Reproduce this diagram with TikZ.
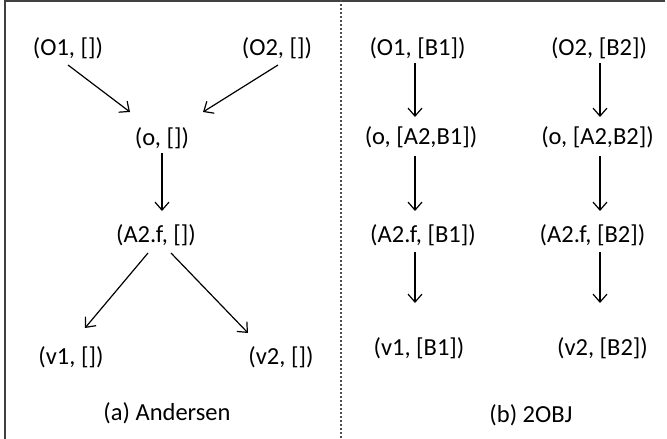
\documentclass[tikz,border=0pt]{standalone}
\usepackage{fontspec}
\setmainfont{Carlito}
\usetikzlibrary{arrows.meta}
\begin{document}
\begin{tikzpicture}[x=1pt,y=-1pt,
  lbl/.style={inner sep=0pt, font=\fontsize{24.5}{28}\selectfont},
  arr/.style={line width=1.2pt, -{Straight Barb[length=8pt,width=14pt,line width=1.2pt]}},
  frame/.style={draw=black!75, line width=2pt},
  divider/.style={draw=black!70, line width=1.5pt, dash pattern=on 2pt off 2pt}]
\useasboundingbox (0,0) rectangle (667,439);
% frame
\coordinate (tl) at (5,1);
\coordinate (tr) at (665,1);
\coordinate (bl) at (5,439);
\draw[frame] (tr) -- (tl) -- (bl);
\coordinate (dt) at (341,0);
\coordinate (db) at (341,439);
\draw[divider] (dt) -- (db);
% (a) Andersen
\node[lbl] (O1) at (68,48) {(O1, [])};
\node[lbl] (O2) at (277,48) {(O2, [])};
\node[lbl] (o) at (162,138) {(o, [])};
\node[lbl] (A2f) at (156,235) {(A2.f, [])};
\node[lbl] (v1) at (71,357) {(v1, [])};
\node[lbl] (v2) at (281,357) {(v2, [])};
\node[lbl] (capa) at (167,413) {(a) Andersen};
\draw[arr] ([shift={(0,17)}]O1.center) -- ([shift={(-32,-26)}]o.center);
\draw[arr] ([shift={(1,17)}]O2.center) -- ([shift={(41,-26)}]o.center);
\draw[arr] ([shift={(0,15)}]o.center) -- ([shift={(0,-24)}]o.center |- A2f.center);
\draw[arr] ([shift={(-8,18)}]A2f.center) -- ([shift={(14,-29)}]v1.center);
\draw[arr] ([shift={(15,18)}]A2f.center) -- ([shift={(-33,-24)}]v2.center);
% (b) 2OBJ
\node[lbl] (O1b) at (417.5,48) {(O1, [B1])};
\node[lbl] (O2b) at (599,48) {(O2, [B2])};
\node[lbl] (o1b) at (421,137) {(o, [A2,B1])};
\node[lbl] (o2b) at (597.5,137) {(o, [A2,B2])};
\node[lbl] (A1b) at (423,235) {(A2.f, [B1])};
\node[lbl] (A2b) at (592.5,235) {(A2.f, [B2])};
\node[lbl] (v1b) at (419,348) {(v1, [B1])};
\node[lbl] (v2b) at (602.5,348) {(v2, [B2])};
\node[lbl] (capb) at (531,415) {(b) 2OBJ};
\draw[arr] ([shift={(-2.5,15)}]O1b.center) -- ([shift={(-2.5,-20)}]O1b.center |- o1b.center);
\draw[arr] ([shift={(1,15)}]O2b.center) -- ([shift={(1,-20)}]O2b.center |- o2b.center);
\draw[arr] ([shift={(-6,19)}]o1b.center) -- ([shift={(-6,-24)}]o1b.center |- A1b.center);
\draw[arr] ([shift={(2.5,19)}]o2b.center) -- ([shift={(2.5,-24)}]o2b.center |- A2b.center);
\draw[arr] ([shift={(-8,17)}]A1b.center) -- ([shift={(-8,-45)}]A1b.center |- v1b.center);
\draw[arr] ([shift={(7.5,17)}]A2b.center) -- ([shift={(7.5,-45)}]A2b.center |- v2b.center);
\end{tikzpicture}
\end{document}
